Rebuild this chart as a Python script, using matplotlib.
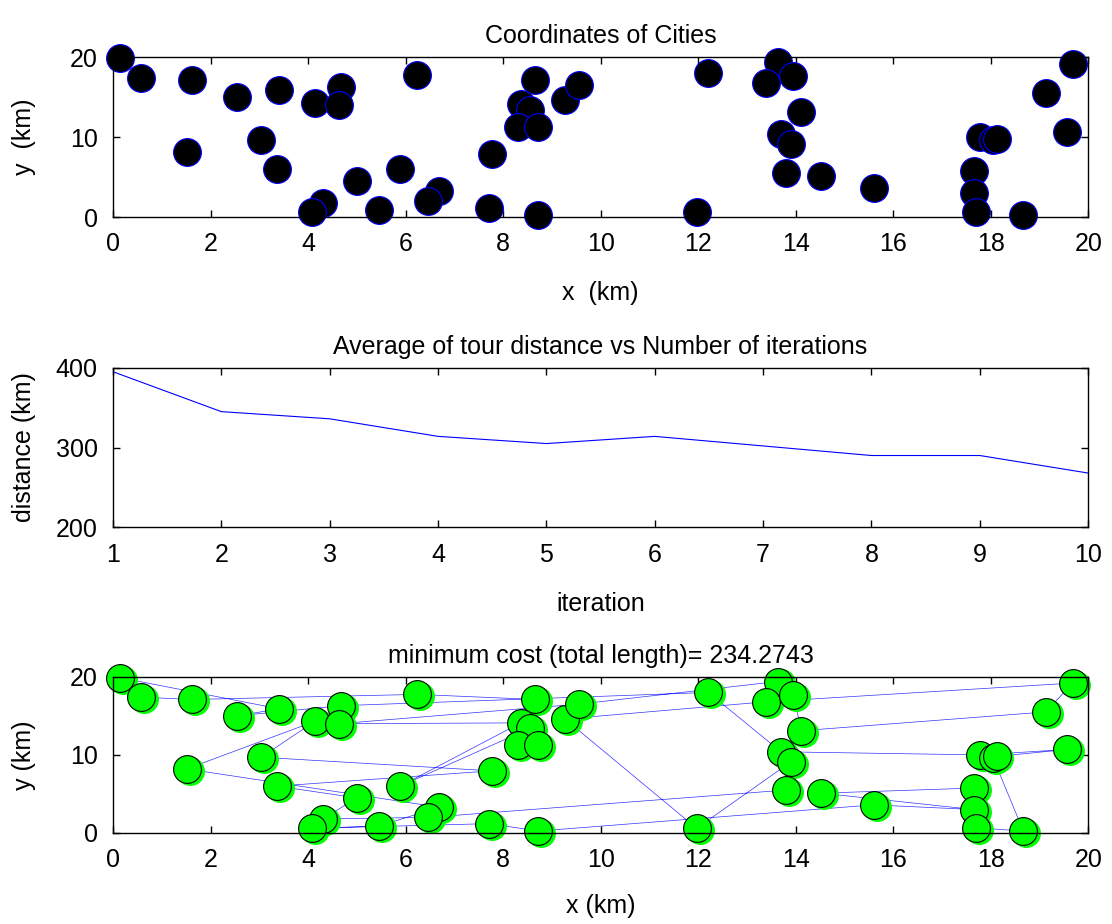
import matplotlib
matplotlib.use("Agg")
import matplotlib.pyplot as plt
import numpy as np

plt.rcParams['font.family'] = ['Liberation Sans', 'DejaVu Sans']
plt.rcParams['font.size'] = 18

# city coordinates (km)
city_x = [0.14, 0.57, 1.62, 2.54, 3.41, 4.14, 4.67, 4.64, 6.24, 8.66,
          8.36, 8.55, 8.31, 8.72, 9.27, 9.55, 1.51, 3.04, 3.36, 5.00,
          5.89, 6.69, 6.47, 4.31, 4.09, 5.46, 7.72, 7.77, 8.72, 12.21,
          13.63, 13.39, 13.95, 14.12, 13.70, 13.90, 13.81, 14.53, 15.60, 11.97,
          17.78, 18.05, 17.65, 17.66, 17.70, 18.67, 19.13, 19.68, 19.57, 18.12]
city_y = [19.9, 17.4, 17.1, 15.0, 15.9, 14.3, 16.3, 14.0, 17.75, 17.1,
          14.1, 13.4, 11.3, 11.3, 14.6, 16.5, 8.2, 9.7, 6.0, 4.5,
          6.0, 3.3, 2.0, 1.8, 0.6, 0.9, 1.2, 7.96, 0.25, 18.0,
          19.4, 16.8, 17.7, 13.1, 10.4, 9.1, 5.5, 5.1, 3.6, 0.6,
          10.0, 9.6, 5.75, 3.0, 0.66, 0.25, 15.5, 19.2, 10.7, 9.8]

# best tour found (city indices)
tour = [29, 6, 3, 4, 0, 1, 2, 8, 9, 13, 12, 11, 20, 10, 7, 15,
        30, 32, 33, 46, 47, 31, 14, 39, 35, 36, 22, 23, 19, 18,
        27, 17, 5, 16, 21, 25, 24, 26, 28, 38, 43, 37, 42, 44,
        45, 41, 49, 48, 40, 34]

# average tour distance per iteration
iterations = [1, 2, 3, 4, 5, 6, 7, 8, 9, 10]
avg_distance = [395, 345, 336, 314, 305, 314, 302, 290, 290, 268]

min_cost = 234.2743

fig = plt.figure(figsize=(11.12, 9.24), dpi=100)
ax1 = fig.add_axes([0.1016, 0.765, 0.877, 0.173])
ax2 = fig.add_axes([0.1016, 0.4293, 0.877, 0.1727])
ax3 = fig.add_axes([0.1016, 0.0985, 0.877, 0.169])


def matlab_style(ax):
    ax.tick_params(direction='in', top=True, right=True, length=5, width=1, pad=11)
    for s in ax.spines.values():
        s.set_linewidth(1)


ax1.plot(city_x, city_y, 'o', ms=20, mfc='black', mec='blue', mew=0.8, clip_on=False)
ax1.set_xlim(0, 20)
ax1.set_ylim(0, 20)
ax1.set_xticks(range(0, 21, 2))
ax1.set_yticks([0, 10, 20])
ax1.set_title('Coordinates of Cities', fontsize=18, pad=10)
ax1.set_xlabel('x  (km)', labelpad=18)
ax1.set_ylabel('y  (km)', labelpad=24)
matlab_style(ax1)

ax2.plot(iterations, avg_distance, color='blue', lw=0.8)
ax2.set_xlim(1, 10)
ax2.set_ylim(200, 400)
ax2.set_xticks(iterations)
ax2.set_yticks([200, 300, 400])
ax2.set_title('Average of tour distance vs Number of iterations', fontsize=18, pad=10)
ax2.set_xlabel('iteration', labelpad=18)
ax2.set_ylabel('distance (km)', labelpad=14)
matlab_style(ax2)

tx = [city_x[i] for i in tour] + [city_x[tour[0]]]
ty = [city_y[i] for i in tour] + [city_y[tour[0]]]
ax3.plot(tx, ty, color='blue', lw=0.5, alpha=0.8)
ax3.plot(np.array(city_x) + 0.06, np.array(city_y) - 0.25, 'o', ms=20, mfc='#00ff00',
         mec='#00ff00', mew=0.8, clip_on=False)
ax3.plot(city_x, city_y, 'o', ms=20, mfc='#00ff00', mec='black', mew=0.8, clip_on=False)
ax3.set_xlim(0, 20)
ax3.set_ylim(0, 20)
ax3.set_xticks(range(0, 21, 2))
ax3.set_yticks([0, 10, 20])
ax3.set_title('minimum cost (total length)= %.4f' % min_cost, fontsize=18, pad=10)
ax3.set_xlabel('x (km)', labelpad=16)
ax3.set_ylabel('y (km)', labelpad=24)
matlab_style(ax3)

fig.savefig('out.png', dpi=100)
